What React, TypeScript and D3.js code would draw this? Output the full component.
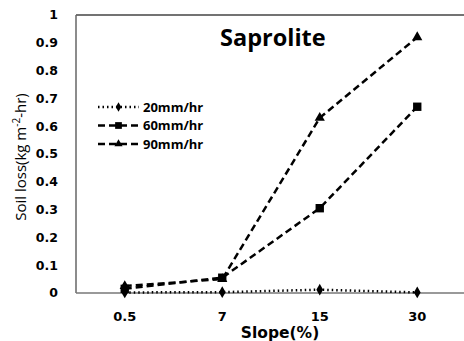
import * as d3 from "d3";

const slopes = ["0.5", "7", "15", "30"];
const loss20 = [0.002, 0.003, 0.012, 0.002];
const loss60 = [0.015, 0.055, 0.305, 0.67];
const loss90 = [0.025, 0.05, 0.63, 0.92];
const yTicks = [0, 0.1, 0.2, 0.3, 0.4, 0.5, 0.6, 0.7, 0.8, 0.9, 1];

const series = [
  { name: "20mm/hr", values: loss20, dash: "1.5,3", marker: "diamond" },
  { name: "60mm/hr", values: loss60, dash: "7,4", marker: "square" },
  { name: "90mm/hr", values: loss90, dash: "7,4", marker: "triangle" },
];

const W = 464, H = 341;
const left = 76, top = 15, bottom = 293;

const x = d3.scalePoint().domain(slopes).range([76, 466]).padding(0.5);
const y = d3.scaleLinear().domain([0, 1]).range([bottom, top]);

const symType: Record<string, d3.SymbolType> = {
  diamond: d3.symbolDiamond,
  square: d3.symbolSquare,
  triangle: d3.symbolTriangle,
};
const symSize: Record<string, number> = { diamond: 40, square: 70, triangle: 45 };

const Marker = ({ kind, cx, cy, scale = 1 }: { kind: string; cx: number; cy: number; scale?: number }) => (
  <path
    d={d3.symbol(symType[kind], symSize[kind] * scale)() || ""}
    transform={`translate(${cx},${cy})`}
    fill="#000"
  />
);

const dejaBold = { fontFamily: "'DejaVu Sans', sans-serif", fontWeight: 700 };
const openBold = { fontFamily: "'Open Sans', sans-serif", fontWeight: 700 };

export default function App() {
  const line = d3.line<number>()
    .x((_v, i) => x(slopes[i]) as number)
    .y((v) => y(v));
  return (
    <svg width={W} height={H} style={{ position: "absolute", left: 0, top: 0, background: "#fff" }}>
      <line x1={left} x2={W} y1={top} y2={top} stroke="#444" strokeWidth={1.5} />
      <line x1={left} x2={left} y1={top} y2={bottom} stroke="#666" strokeWidth={1.5} />
      <line x1={left} x2={W} y1={bottom} y2={bottom} stroke="#777" strokeWidth={1.5} />
      {yTicks.map((t) => (
        <text key={t} x={58} y={y(t)} dy="0.35em" textAnchor="end" fontSize={12.5} style={dejaBold}>
          {t}
        </text>
      ))}
      {slopes.map((s) => (
        <text key={s} x={x(s)} y={321} textAnchor="middle" fontSize={13} style={dejaBold}>
          {s}
        </text>
      ))}
      <text x={280} y={338} textAnchor="middle" fontSize={15.5} style={dejaBold}>Slope(%)</text>
      <text
        transform={`translate(26,157) rotate(-90)`}
        textAnchor="middle"
        fontSize={15}
        style={{ fontFamily: "'Open Sans', sans-serif" }}
      >
        Soil loss(kg m<tspan dy={-6} fontSize={10}>-2</tspan><tspan dy={6}>-hr)</tspan>
      </text>
      <text x={220} y={46} fontSize={23.5} style={openBold}>Saprolite</text>
      {series.map((s) => (
        <g key={s.name}>
          <path d={line(s.values) || ""} fill="none" stroke="#000" strokeWidth={2.5} strokeDasharray={s.dash} />
          {s.values.map((v, i) => (
            <Marker key={i} kind={s.marker} cx={x(slopes[i]) as number} cy={y(v)} />
          ))}
        </g>
      ))}
      {series.map((s, i) => {
        const ly = 107 + i * 18.5;
        return (
          <g key={s.name}>
            <line x1={98} x2={139} y1={ly} y2={ly} stroke="#000" strokeWidth={2.5} strokeDasharray={i === 0 ? "1.5,3" : "7,4"} />
            <Marker kind={s.marker} cx={118.5} cy={ly} scale={0.65} />
            <text x={143} y={ly} dy="0.35em" fontSize={13} style={openBold}>{s.name}</text>
          </g>
        );
      })}
    </svg>
  );
}
